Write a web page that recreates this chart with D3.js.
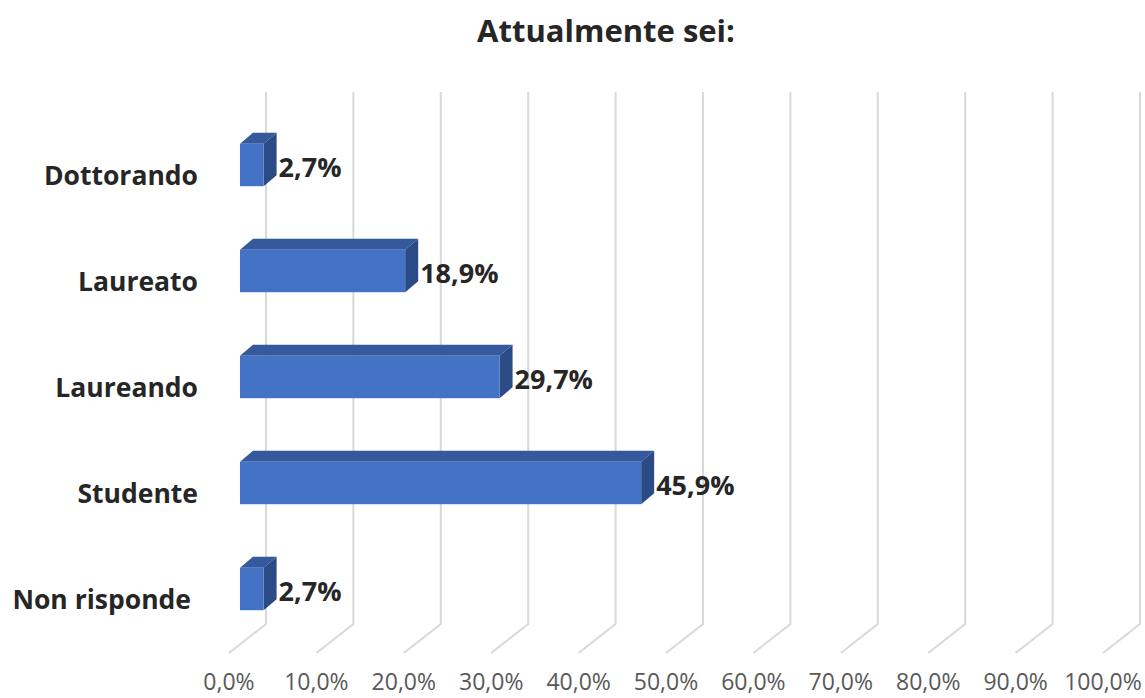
<!DOCTYPE html>
<html>
<head>
<meta charset="utf-8">
<script src="https://cdn.jsdelivr.net/npm/d3@7"></script>
<style>
  body { margin: 0; background: #fff; }
  svg { display: block; font-family: "Open Sans", "Noto Sans", sans-serif; }
</style>
</head>
<body>
<div id="chart"></div>
<script>
// data, top to bottom as drawn
var categories = ["Dottorando", "Laureato", "Laureando", "Studente", "Non risponde"];
var values = [0.027, 0.189, 0.297, 0.459, 0.027];
var tickValues = [0, 0.1, 0.2, 0.3, 0.4, 0.5, 0.6, 0.7, 0.8, 0.9, 1.0];
var title = "Attualmente sei:";

var width = 1145, height = 698;
var fmt = function(v) { return (v * 100).toFixed(1).replace(".", ",") + "%"; };

// 3d offsets (screen px)
var barDepth = {dx: 13, dy: -11},   // front face -> back face of a bar
    wallOff = {dx: 26, dy: -21},    // bar front plane -> back wall
    floorOff = {dx: -11, dy: 8};    // bar front plane -> front edge of floor

var x = d3.scaleLinear().domain([0, 1]).range([240, 240 + 874]);
var y = d3.scaleBand().domain(categories).range([112, 642]).paddingInner(0.6).paddingOuter(0.3);

var svg = d3.select("#chart").append("svg")
    .attr("width", width).attr("height", height);

// title
svg.append("text")
    .attr("x", 606).attr("y", 42)
    .attr("text-anchor", "middle")
    .style("font-size", "31px").style("font-weight", "bold").style("fill", "#262626")
    .text(title);

// gridlines: vertical on back wall, then diagonal across the floor
var wallTop = 92, wallBottom = 624;
svg.append("g").selectAll("path")
    .data(tickValues)
    .enter().append("path")
      .attr("d", function(d) {
        var xw = x(d) + wallOff.dx;
        var xf = x(d) + floorOff.dx;
        return "M" + xw + "," + wallTop + "L" + xw + "," + wallBottom +
               "L" + xf + "," + (wallBottom + (floorOff.dy - wallOff.dy)) ;
      })
      .attr("fill", "none")
      .attr("stroke", "#d9d9d9")
      .attr("stroke-width", 2);

// tick labels
svg.append("g").selectAll("text")
    .data(tickValues)
    .enter().append("text")
      .attr("x", function(d) { return x(d) + floorOff.dx; })
      .attr("y", 690)
      .attr("text-anchor", "middle")
      .style("font-size", "23px").style("fill", "#595959")
      .text(fmt);

// bars
var rows = categories.map(function(c, i) { return {cat: c, value: values[i]}; });
var bars = svg.append("g").selectAll("g")
    .data(rows)
    .enter().append("g");

var x0 = x(0), bh = y.bandwidth();

bars.append("path") // top face
    .attr("d", function(d) {
      var t = y(d.cat), r = x(d.value);
      return "M" + x0 + "," + t + "L" + r + "," + t +
             "L" + (r + barDepth.dx) + "," + (t + barDepth.dy) +
             "L" + (x0 + barDepth.dx) + "," + (t + barDepth.dy) + "Z";
    })
    .attr("fill", "#34599c");

bars.append("path") // right side
    .attr("d", function(d) {
      var t = y(d.cat), r = x(d.value);
      return "M" + r + "," + t + "L" + (r + barDepth.dx) + "," + (t + barDepth.dy) +
             "L" + (r + barDepth.dx) + "," + (t + bh + barDepth.dy) +
             "L" + r + "," + (t + bh) + "Z";
    })
    .attr("fill", "#2b4b86");

bars.append("rect") // front face
    .attr("x", x0)
    .attr("y", function(d) { return y(d.cat); })
    .attr("width", function(d) { return x(d.value) - x0; })
    .attr("height", bh)
    .attr("fill", "#4472c4");

// value labels
bars.append("text")
    .attr("x", function(d) { return x(d.value) + barDepth.dx + 2; })
    .attr("y", function(d) { return y(d.cat) + bh / 2 + 12; })
    .style("font-size", "27px").style("font-weight", "bold").style("fill", "#262626")
    .text(function(d) { return fmt(d.value); });

// category labels
svg.append("g").selectAll("text")
    .data(categories)
    .enter().append("text")
      .attr("x", function(d) { return d === "Non risponde" ? 191 : 198; })
      .attr("y", function(d) { return y(d) + bh / 2 + 20; })
      .attr("text-anchor", "end")
      .style("font-size", "26.5px").style("font-weight", "bold").style("fill", "#262626")
      .text(function(d) { return d; });
</script>
</body>
</html>
